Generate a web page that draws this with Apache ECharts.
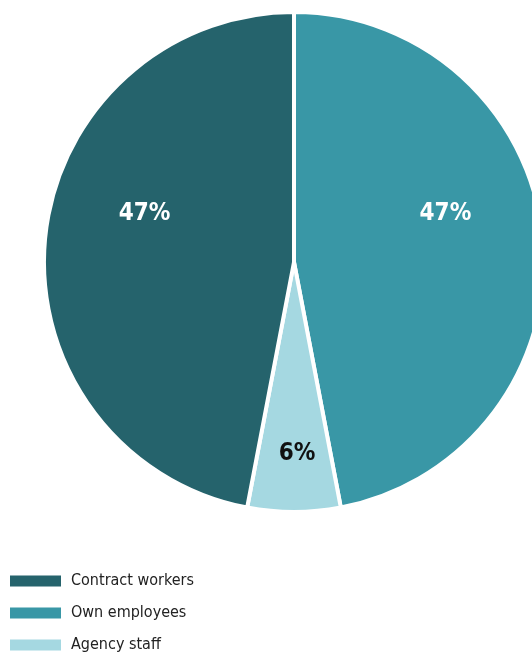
<!DOCTYPE html>
<html>
<head>
<meta charset="utf-8">
<script src="https://cdn.jsdelivr.net/npm/echarts@6/dist/echarts.min.js"></script>
<style>
  html, body { margin: 0; padding: 0; background: #fff; }
  #chart { width: 532px; height: 655px; }
</style>
</head>
<body>
<div id="chart"></div>
<script>
// Workforce composition, drawn clockwise from 12 o'clock
const categories = ['Own employees', 'Agency staff', 'Contract workers'];
const shares = [47, 6, 47];
const legendOrder = ['Contract workers', 'Own employees', 'Agency staff'];

const sliceColors = {
  'Own employees': '#3997a6',
  'Agency staff': '#a5d8e1',
  'Contract workers': '#25636c'
};
const labelColors = {
  'Own employees': '#ffffff',
  'Agency staff': '#111111',
  'Contract workers': '#ffffff'
};
// nudges applied to the inside labels
const labelNudge = {
  'Own employees': [24, -36],
  'Agency staff': [3, 64],
  'Contract workers': [-22, -36]
};

const FONT = '"Liberation Sans Narrow", "Arial Narrow", "DejaVu Sans Condensed", sans-serif';

const chart = echarts.init(document.getElementById('chart'), null, { renderer: 'canvas' });

chart.setOption({
  animation: false,
  backgroundColor: '#ffffff',
  legend: {
    data: legendOrder,
    orient: 'vertical',
    left: 10,
    top: 573,
    padding: 0,
    itemWidth: 51,
    itemHeight: 11,
    itemGap: 16,
    icon: 'rect',
    itemStyle: { borderWidth: 0 },
    textStyle: {
      fontFamily: FONT,
      fontSize: 16,
      lineHeight: 16,
      color: '#222222',
      padding: [0, 0, 0, 5]
    }
  },
  series: [{
    type: 'pie',
    center: [294, 262],
    radius: 250,
    startAngle: 90,
    clockwise: true,
    avoidLabelOverlap: false,
    itemStyle: { borderColor: '#ffffff', borderWidth: 4 },
    emphasis: { scale: false },
    label: {
      show: true,
      position: 'inside',
      formatter: p => p.value + '%',
      fontFamily: FONT,
      fontWeight: 'bold',
      fontSize: 24
    },
    labelLine: { show: false },
    labelLayout: p => {
      const n = labelNudge[categories[p.dataIndex]];
      return { dx: n[0], dy: n[1] };
    },
    data: categories.map((name, i) => ({
      name: name,
      value: shares[i],
      itemStyle: { color: sliceColors[name] },
      label: { color: labelColors[name] }
    }))
  }]
});
</script>
</body>
</html>
